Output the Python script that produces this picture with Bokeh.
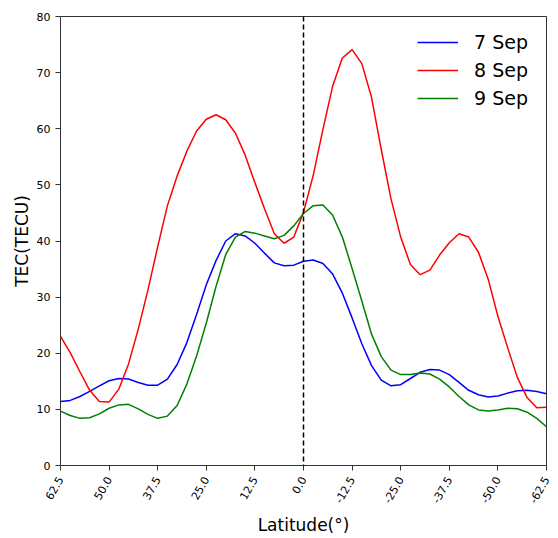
import math
from bokeh.plotting import figure
from bokeh.models import Range1d, FixedTicker, Span, Legend, LegendItem
from bokeh.embed import file_html
from bokeh.resources import INLINE

latitude = [62.5 - 2.5 * i for i in range(51)]

tec_7sep = [11.4, 11.6, 12.3, 13.2, 14.2, 15.1, 15.5, 15.4, 14.8, 14.3,
            14.3, 15.4, 18.0, 21.9, 26.9, 32.2, 36.5, 40.0, 41.3, 40.9,
            39.6, 37.8, 36.1, 35.6, 35.7, 36.4, 36.6, 36.0, 34.1, 30.7,
            26.3, 21.7, 17.8, 15.2, 14.2, 14.4, 15.5, 16.6, 17.1, 17.0,
            16.2, 14.8, 13.4, 12.6, 12.2, 12.4, 12.9, 13.3, 13.4, 13.2,
            12.8]

tec_8sep = [23.0, 20.1, 16.7, 13.4, 11.4, 11.3, 13.6, 18.1, 24.3, 31.3,
            39.0, 46.3, 51.6, 56.0, 59.6, 61.7, 62.5, 61.6, 59.2, 55.3,
            50.4, 45.7, 41.3, 39.6, 40.7, 45.1, 51.7, 59.9, 67.6, 72.6,
            74.1, 71.6, 65.6, 56.3, 47.5, 40.7, 35.8, 34.0, 34.8, 37.5,
            39.7, 41.3, 40.7, 38.0, 33.2, 26.6, 21.0, 15.7, 12.1, 10.3,
            10.4]

tec_9sep = [9.7, 8.9, 8.4, 8.5, 9.2, 10.2, 10.8, 10.9, 10.1, 9.1,
            8.4, 8.8, 10.7, 14.5, 19.5, 25.4, 31.9, 37.6, 40.7, 41.7,
            41.4, 40.9, 40.4, 41.0, 42.7, 44.9, 46.3, 46.4, 44.6, 40.7,
            35.1, 29.3, 23.4, 19.4, 17.0, 16.2, 16.2, 16.5, 16.3, 15.4,
            14.0, 12.3, 10.8, 9.9, 9.7, 9.9, 10.2, 10.1, 9.5, 8.4,
            6.9]

series_labels = ["7 Sep", "8 Sep", "9 Sep"]
series_colors = ["blue", "red", "green"]

x_ticks = [62.5, 50.0, 37.5, 25.0, 12.5, 0.0, -12.5, -25.0, -37.5, -50.0, -62.5]
x_tick_labels = ["62.5", "50.0", "37.5", "25.0", "12.5", "0.0", "-12.5", "-25.0", "-37.5", "-50.0", "-62.5"]
y_ticks = [0, 10, 20, 30, 40, 50, 60, 70, 80]

FONT = "DejaVu Sans"

p = figure(width=558, height=538, output_backend="svg", toolbar_location=None,
           x_range=Range1d(62.5, -62.5), y_range=Range1d(0, 80),
           min_border_left=60, min_border_right=12, min_border_top=16, min_border_bottom=69)

p.background_fill_color = "white"
p.border_fill_color = "white"
p.outline_line_color = "#333333"
p.outline_line_width = 1
p.xgrid.visible = False
p.ygrid.visible = False

items = []
for ys, lab, col in zip([tec_7sep, tec_8sep, tec_9sep], series_labels, series_colors):
    r = p.line(latitude, ys, line_color=col, line_width=1.5)
    items.append(LegendItem(label=lab, renderers=[r]))

p.add_layout(Span(location=0, dimension="height", line_color="black",
                  line_dash="5 3", line_width=1.5))

for ax in (p.xaxis[0], p.yaxis[0]):
    ax.axis_line_color = None
    ax.major_tick_line_color = "#333333"
    ax.major_tick_out = 5
    ax.major_tick_in = 0
    ax.minor_tick_line_color = None
    ax.major_label_text_font = FONT
    ax.major_label_text_font_size = "11px"
    ax.major_label_text_color = "black"
    ax.axis_label_text_font = FONT
    ax.axis_label_text_font_size = "17px"
    ax.axis_label_text_font_style = "normal"
    ax.axis_label_text_color = "black"

p.xaxis.ticker = FixedTicker(ticks=x_ticks)
p.xaxis.major_label_overrides = {t: l for t, l in zip(x_ticks, x_tick_labels)}
p.xaxis.major_label_orientation = math.pi / 3
p.xaxis.major_label_standoff = 7
p.xaxis.axis_label = "Latitude(°)"
p.xaxis.axis_label_standoff = 6

p.yaxis.ticker = FixedTicker(ticks=y_ticks)
p.yaxis.axis_label = "TEC(TECU)"
p.yaxis.axis_label_standoff = 2

legend = Legend(items=items, location="top_right")
legend.border_line_color = None
legend.background_fill_alpha = 0
legend.label_text_font = FONT
legend.label_text_font_size = "19px"
legend.label_text_color = "black"
legend.glyph_width = 41
legend.glyph_height = 28
legend.label_height = 28
legend.label_width = 60
legend.label_standoff = 16
legend.spacing = 0
legend.padding = 12
legend.margin = 12
p.add_layout(legend)

open("out.html", "w").write(file_html(p, INLINE))
